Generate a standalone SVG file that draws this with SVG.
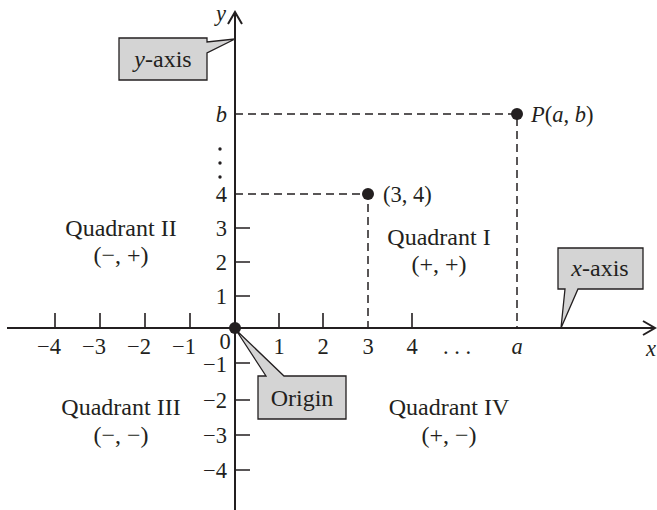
<svg xmlns="http://www.w3.org/2000/svg" width="657" height="510" viewBox="0 0 657 510">
<style>
text{font-family:"Liberation Serif","Times New Roman",serif;fill:#231f20}
.n{font-size:22.5px}
.q{font-size:24px;text-anchor:middle}
.e{text-anchor:end}
.m{text-anchor:middle}
.i{font-style:italic}
.ax{stroke:#231f20;stroke-width:2;fill:none}
.tk{stroke:#231f20;stroke-width:1.6}
.ds{stroke:#231f20;stroke-width:1.5;stroke-dasharray:8 5;fill:none}
.co{fill:#d4d4d4;stroke:#231f20;stroke-width:1.3}
</style>
<rect width="657" height="510" fill="#fff"/>
<g id="connectors">
<path class="ax" d="M7,328 H655 M643,321 L655,328 L643,335"/>
<path class="ax" d="M235,510 V12 M228,24 L235,12 L242,24"/>
<path class="tk" d="M55,328 V313 M100,328 V313 M145,328 V313 M190,328 V313 M279,328 V313 M323,328 V313 M412,328 V313"/>
<path class="tk" d="M235,296 H250 M235,262 H250 M235,228 H250 M235,363 H250 M235,400 H250 M235,435 H250 M235,470 H250"/>
<path class="ds" d="M235,194 H368 V328"/>
<path class="ds" d="M235,114 H517 V328"/>
</g>
<g id="x-labels" class="n">
<text x="61" y="354" class="e">−4</text>
<text x="106" y="354" class="e">−3</text>
<text x="151" y="354" class="e">−2</text>
<text x="196" y="354" class="e">−1</text>
<text x="225" y="349" class="m">0</text>
<text x="279" y="354" class="m">1</text>
<text x="323" y="354" class="m">2</text>
<text x="368" y="354" class="m">3</text>
<text x="412" y="354" class="m">4</text>
<text x="457" y="354" class="m">. . .</text>
<text x="517" y="354" class="m i">a</text>
<text x="651" y="356" class="m i">x</text>
</g>
<g id="y-labels" class="n">
<text x="227" y="304" class="e">1</text>
<text x="227" y="270" class="e">2</text>
<text x="227" y="236" class="e">3</text>
<text x="227" y="202" class="e">4</text>
<text x="227" y="122" class="e i">b</text>
<text x="227" y="372" class="e">−1</text>
<text x="227" y="408" class="e">−2</text>
<text x="227" y="443" class="e">−3</text>
<text x="227" y="478" class="e">−4</text>
<text x="221" y="21" class="m i">y</text>
<circle cx="220" cy="149" r="1.7" fill="#231f20"/>
<circle cx="220" cy="163" r="1.7" fill="#231f20"/>
<circle cx="220" cy="177" r="1.7" fill="#231f20"/>
</g>
<g id="point-34">
<circle cx="368" cy="194" r="6" fill="#231f20"/>
<text x="383" y="202" class="n">(3, 4)</text>
</g>
<g id="point-P">
<circle cx="517" cy="114" r="6" fill="#231f20"/>
<text x="531" y="122" class="n"><tspan class="i">P</tspan>(<tspan class="i">a</tspan>, <tspan class="i">b</tspan>)</text>
</g>
<g id="quadrant-1">
<text x="439" y="245" class="q">Quadrant I</text>
<text x="439" y="272" class="q">(+, +)</text>
</g>
<g id="quadrant-2">
<text x="121" y="236" class="q">Quadrant II</text>
<text x="121" y="263" class="q">(−, +)</text>
</g>
<g id="quadrant-3">
<text x="121" y="415" class="q">Quadrant III</text>
<text x="121" y="443" class="q">(−, −)</text>
</g>
<g id="quadrant-4">
<text x="449" y="415" class="q">Quadrant IV</text>
<text x="449" y="443" class="q">(+, −)</text>
</g>
<g id="y-axis-callout">
<path class="co" d="M119,38 H207 V42 L235,39 L207,53 V80 H119 Z"/>
<text x="163" y="67" class="q"><tspan class="i">y</tspan>-axis</text>
</g>
<g id="x-axis-callout">
<path class="co" d="M558,248 H643 V289 H578 L561,328 L565,289 H558 Z"/>
<text x="600" y="276" class="q"><tspan class="i">x</tspan>-axis</text>
</g>
<g id="origin-callout">
<path class="co" d="M258,376 H266 L236,330 L284,376 H346 V419 H258 Z"/>
<text x="302" y="406" class="q">Origin</text>
</g>
<g id="origin">
<circle cx="235" cy="328" r="6" fill="#231f20"/>
</g>
</svg>
